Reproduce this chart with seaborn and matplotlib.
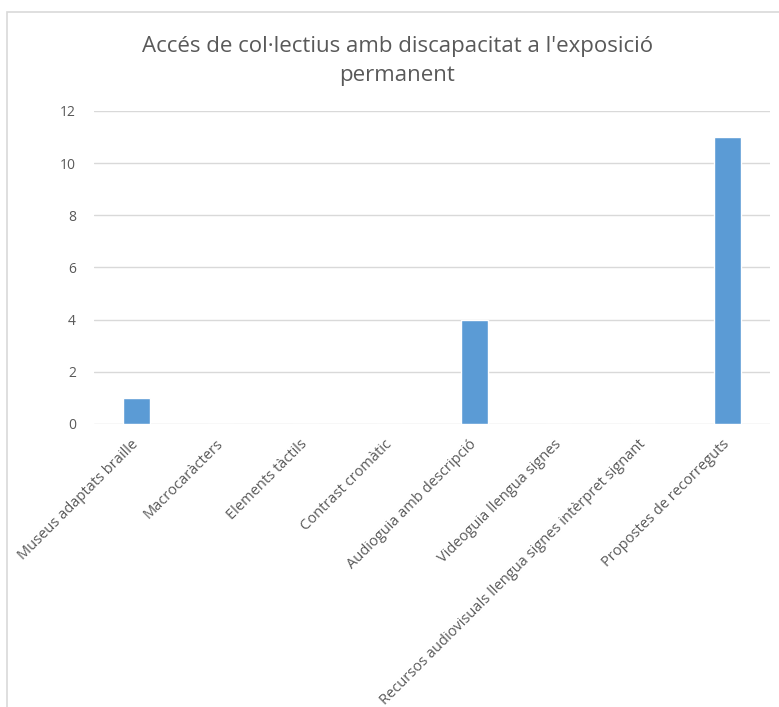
import matplotlib
matplotlib.use('Agg')
import matplotlib.pyplot as plt
import seaborn as sns
from matplotlib.patches import Rectangle

categories = [
    'Museus adaptats braille',
    'Macrocaràcters',
    'Elements tàctils',
    'Contrast cromàtic',
    'Audioguia amb descripció',
    'Videoguia llengua signes',
    'Recursos audiovisuals llengua signes intèrpret signant',
    'Propostes de recorreguts',
]
values = [1, 0, 0, 0, 4, 0, 0, 11]
title = "Accés de col·lectius amb discapacitat a l'exposició\npermanent"

sns.set_style('white')
plt.rcParams['font.family'] = ['Open Sans', 'DejaVu Sans']

text_color = '#595959'
grid_color = '#d9d9d9'

fig = plt.figure(figsize=(7.79, 7.07), dpi=100)
ax = fig.add_axes([0.1207, 0.4003, 0.8677, 0.4427])

sns.barplot(x=categories, y=values, color='#5B9BD5', width=0.32,
            saturation=1, ax=ax, zorder=3)

ax.set_ylim(0, 12)
ax.set_yticks(range(0, 13, 2))
ax.set_xlim(-0.5, len(categories) - 0.5)
ax.yaxis.grid(True, color=grid_color, linewidth=1, zorder=0)
for s in ax.spines.values():
    s.set_visible(False)
ax.tick_params(axis='both', length=0, colors=text_color)
ax.tick_params(axis='y', pad=13, labelsize=10)
ax.set_xticks(range(len(categories)))
ax.set_xticklabels(categories, rotation=45, ha='right', va='center',
                   rotation_mode='anchor', fontsize=10.5)
ax.tick_params(axis='x', pad=13)

fig.text(0.51, 0.914, title, ha='center', va='center', fontsize=16,
         color=text_color, linespacing=1.5)

# chart frame
fig.patches.append(Rectangle((7 / 779, -0.01), 1.02, 1 - 12 / 707 + 0.01,
                             transform=fig.transFigure, fill=False,
                             edgecolor=grid_color, linewidth=1.2))

fig.savefig('out.png', dpi=100)
